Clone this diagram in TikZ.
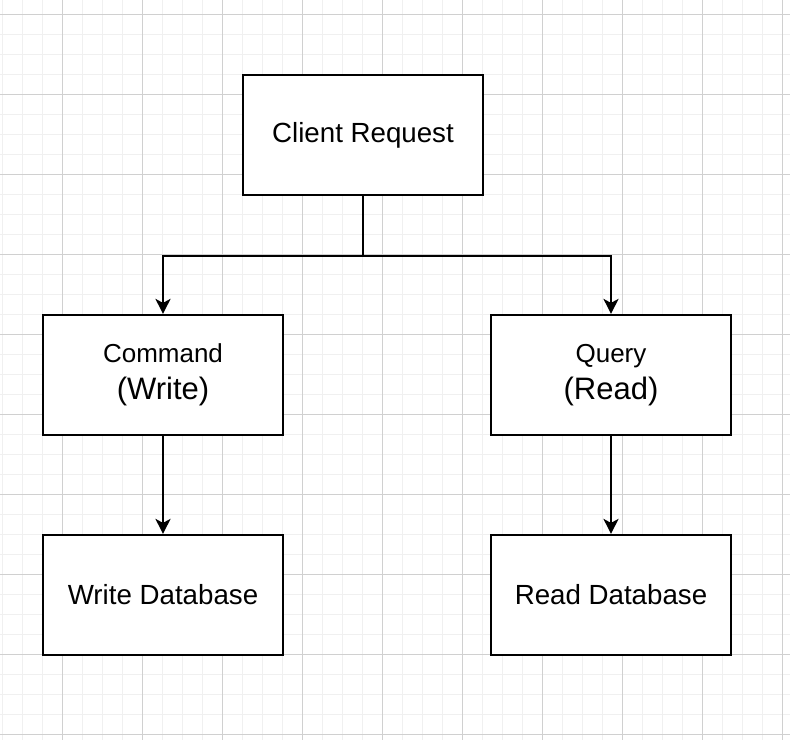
\documentclass[tikz,border=0pt]{standalone}
\usepackage{fontspec}
\setmainfont{Liberation Sans}
\usetikzlibrary{arrows.meta, calc}
\definecolor{minorcol}{RGB}{240,240,240}
\definecolor{majorcol}{RGB}{208,208,208}
\definecolor{inkcol}{RGB}{0,0,0}
\newcommand{\labelfont}{\fontsize{27.7}{32}\selectfont}
\newcommand{\kindfont}{\fontsize{26}{30}\selectfont}
\newcommand{\rolefont}{\fontsize{31}{36}\selectfont}

\begin{document}
\begin{tikzpicture}[
    x=1pt, y=-1pt,
    >=Stealth,
    block/.style={draw=inkcol, fill=white, line width=2.2pt, minimum width=240pt,
      minimum height=120pt, inner sep=0pt, align=center, font=\labelfont},
    flow/.style={draw=inkcol, line width=2.2pt, -{Stealth[length=15pt, width=15pt, inset=4pt]}}
  ]

  % --- frame and background grid -----------------------------------------
  \useasboundingbox (0,0) rectangle (790,740);
  \fill[white] (0,0) rectangle (790,740);
  \foreach \gx in {2,22,...,782} \draw[minorcol, line width=1pt] (\gx,0) -- (\gx,740);
  \foreach \gy in {14,34,...,734} \draw[minorcol, line width=1pt] (0,\gy) -- (790,\gy);
  \foreach \gx in {62,142,...,782} \draw[majorcol, line width=1pt] (\gx,0) -- (\gx,740);
  \foreach \gy in {14,94,...,734} \draw[majorcol, line width=1pt] (0,\gy) -- (790,\gy);

  % --- boxes -------------------------------------------------------------
  \node[block] (client) at (363,135) {Client Request};
  \node[block] (command) at (163,375) {{\kindfont Command}\\[5pt]{\rolefont (Write)}};
  \node[block] (query) at (611,375) {{\kindfont Query}\\[5pt]{\rolefont (Read)}};
  \node[block] (writedb) at (163,595) {Write Database};
  \node[block] (readdb) at (611,595) {Read Database};

  % --- split point below the request --------------------------------------
  \coordinate (split) at ($(client.south)+(0,60)$);

  % --- connectors ----------------------------------------------------------
  \draw[flow] (client.south) -- (split) -| (command.north);
  \draw[flow] (split) -| (query.north);
  \draw[flow] (command.south) -- (writedb.north);
  \draw[flow] (query.south) -- (readdb.north);

\end{tikzpicture}
\end{document}
